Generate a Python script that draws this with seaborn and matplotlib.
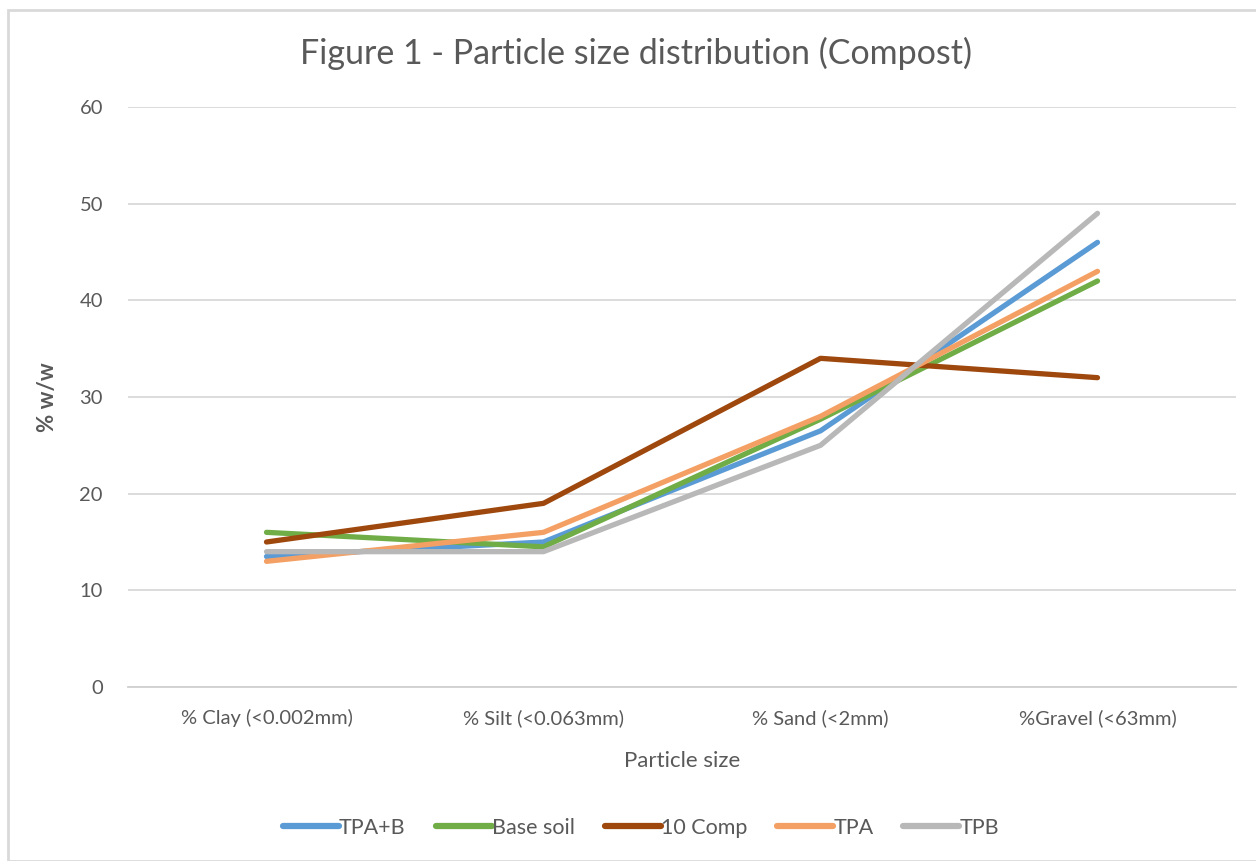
import matplotlib
matplotlib.use("Agg")
import matplotlib.pyplot as plt
import seaborn as sns
import pandas as pd
from matplotlib.patches import Rectangle

categories = ["% Clay (<0.002mm)", "% Silt (<0.063mm)", "% Sand (<2mm)", "%Gravel (<63mm)"]
series_names = ["TPA+B", "Base soil", "10 Comp", "TPA", "TPB"]
tpa_b = [13.5, 15, 26.5, 46]
base_soil = [16, 14.5, 27.7, 42]
comp10 = [15, 19, 34, 32]
tpa = [13, 16, 28, 43]
tpb = [14, 14, 25, 49]
colors = ["#5B9BD5", "#70AD47", "#9E480E", "#F4A064", "#B8B8B8"]

rows = []
for name, vals in zip(series_names, [tpa_b, base_soil, comp10, tpa, tpb]):
    for c, v in zip(categories, vals):
        rows.append({"Particle size": c, "value": v, "series": name})
df = pd.DataFrame(rows)

sns.set_theme(style="white")
plt.rcParams['font.family'] = ['Lato', 'DejaVu Sans']
txt = "#595959"

fig = plt.figure(figsize=(12.56, 8.61), dpi=100)
ax = fig.add_axes([128/1256, 1-687/861, 1108/1256, 580/861])

sns.lineplot(data=df, x="Particle size", y="value", hue="series",
             hue_order=series_names, palette=colors, linewidth=3.8,
             sort=False, ax=ax, legend=True)
for ln in ax.lines:
    ln.set_solid_capstyle("round")
    ln.set_solid_joinstyle("round")

ax.set_xlim(-0.5, 3.5)
ax.set_ylim(0, 60)
ax.set_yticks(range(0, 61, 10))
ax.yaxis.grid(True, color="#D9D9D9", linewidth=1.3)
ax.set_axisbelow(True)
for s in ["top", "right", "left"]:
    ax.spines[s].set_visible(False)
ax.spines["bottom"].set_color("#D0D0D0")
ax.spines["bottom"].set_linewidth(1.3)
ax.tick_params(axis="both", length=0, labelsize=14.5, colors=txt)
ax.tick_params(axis="y", pad=18)
ax.tick_params(axis="x", pad=16)
ax.set_xlabel("Particle size", fontsize=16, color=txt, labelpad=17)
ax.set_ylabel("% w/w", fontsize=16, color=txt, fontweight="bold", labelpad=26)
ax.yaxis.set_label_coords(-(128-58)/1108, 0.5)
fig.text(636/1256, 1-53/861, "Figure 1 - Particle size distribution (Compost)",
         ha="center", va="center", fontsize=24.5, color=txt)

handles, labels = ax.get_legend_handles_labels()
leg = ax.legend(handles, labels, loc="center", bbox_to_anchor=((641-128)/1108, 1-(828-107)/580),
                ncol=5, frameon=False, fontsize=15.5, handlelength=2.6, handletextpad=0.0,
                columnspacing=1.4, labelcolor=txt)
for h in leg.get_lines():
    h.set_linewidth(4.5)
    h.set_solid_capstyle("round")

fig.patches.append(Rectangle((8/1256, 0), 1, 1-10/861, transform=fig.transFigure,
                             fill=False, edgecolor="#D9D9D9", linewidth=2))
fig.savefig("out.png", dpi=100)
